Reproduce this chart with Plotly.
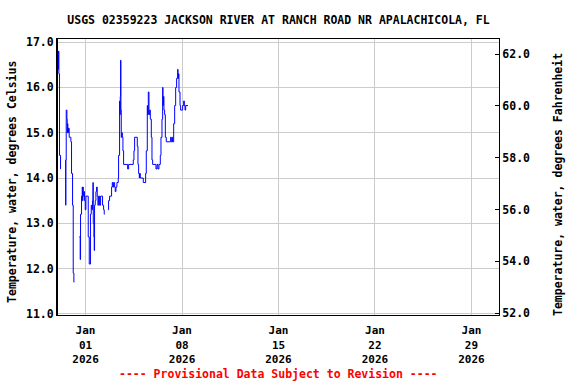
import plotly.graph_objects as go

TITLE = "USGS 02359223 JACKSON RIVER AT RANCH ROAD NR APALACHICOLA, FL"
Y_LEFT_TITLE = "Temperature, water, degrees Celsius"
Y_RIGHT_TITLE = "Temperature, water, degrees Fahrenheit"
NOTE = "---- Provisional Data Subject to Revision ----"

# Water temperature (deg C); None marks gaps in the record
times = [
    "2025-12-30 00:00", "2025-12-30 00:30", "2025-12-30 01:00", "2025-12-30 01:30",
    "2025-12-30 02:40", "2025-12-30 04:25", "2025-12-30 04:50", "2025-12-30 09:00",
    "2025-12-30 13:05", "2025-12-30 13:20", "2025-12-30 13:40", "2025-12-30 14:20",
    "2025-12-30 15:30", "2025-12-30 16:00", "2025-12-30 16:35", "2025-12-30 17:10",
    "2025-12-30 18:20", "2025-12-30 19:30", "2025-12-30 22:25", "2025-12-30 23:35",
    "2025-12-31 01:20", "2025-12-31 02:30", "2025-12-31 03:40", "2025-12-31 04:15",
    "2025-12-31 08:00",
    "2025-12-31 13:00", "2025-12-31 14:40", "2025-12-31 15:15", "2025-12-31 17:00",
    "2025-12-31 18:10", "2025-12-31 18:45", "2025-12-31 19:20", "2025-12-31 19:55",
    "2025-12-31 21:05", "2025-12-31 22:15", "2025-12-31 23:25", "2026-01-01 00:35",
    "2026-01-01 04:40", "2026-01-01 06:25", "2026-01-01 08:30", "2026-01-01 09:55",
    "2026-01-01 11:00", "2026-01-01 12:10", "2026-01-01 12:50", "2026-01-01 13:25",
    "2026-01-01 14:30", "2026-01-01 15:05", "2026-01-01 15:40", "2026-01-01 16:50",
    "2026-01-01 18:00", "2026-01-01 19:10", "2026-01-01 20:20", "2026-01-01 21:30",
    "2026-01-01 22:40", "2026-01-02 00:25", "2026-01-02 02:10", "2026-01-02 05:35",
    "2026-01-02 07:25", "2026-01-02 08:30", "2026-01-02 09:10", "2026-01-02 12:00",
    "2026-01-02 14:55", "2026-01-02 16:05", "2026-01-02 17:50", "2026-01-02 21:20",
    "2026-01-02 22:30", "2026-01-02 23:40", "2026-01-03 00:50", "2026-01-03 02:35",
    "2026-01-03 03:40", "2026-01-03 04:55", "2026-01-03 06:35", "2026-01-03 08:55",
    "2026-01-03 09:30", "2026-01-03 11:15", "2026-01-03 11:50", "2026-01-03 12:25",
    "2026-01-03 13:00", "2026-01-03 13:35", "2026-01-03 14:10", "2026-01-03 15:20",
    "2026-01-03 16:00", "2026-01-03 17:05", "2026-01-03 18:15", "2026-01-04 01:15",
    "2026-01-04 03:00", "2026-01-04 11:05", "2026-01-04 12:15", "2026-01-04 13:25",
    "2026-01-04 18:05", "2026-01-04 19:15", "2026-01-04 20:25", "2026-01-04 21:35",
    "2026-01-04 22:10", "2026-01-04 23:20", "2026-01-05 04:30", "2026-01-05 08:35",
    "2026-01-05 09:45", "2026-01-05 11:30", "2026-01-05 12:05", "2026-01-05 13:15",
    "2026-01-05 14:25", "2026-01-05 15:35", "2026-01-05 16:45", "2026-01-05 18:30",
    "2026-01-05 19:40", "2026-01-05 20:50", "2026-01-06 02:35", "2026-01-06 04:25",
    "2026-01-06 06:05", "2026-01-06 07:50", "2026-01-06 10:10", "2026-01-06 11:20",
    "2026-01-06 13:05", "2026-01-06 14:15", "2026-01-06 14:50", "2026-01-06 15:25",
    "2026-01-06 16:30", "2026-01-06 17:40", "2026-01-06 18:55", "2026-01-06 20:35",
    "2026-01-07 04:10", "2026-01-07 05:20", "2026-01-07 07:00", "2026-01-07 07:40",
    "2026-01-07 09:25", "2026-01-07 11:10", "2026-01-07 12:55", "2026-01-07 14:35",
    "2026-01-07 16:25", "2026-01-07 17:00", "2026-01-07 17:30", "2026-01-07 18:40",
    "2026-01-07 20:30", "2026-01-07 21:35", "2026-01-08 01:05", "2026-01-08 02:50",
    "2026-01-08 04:00", "2026-01-08 05:10", "2026-01-08 06:20", "2026-01-08 10:25",
]
temp_c = [
    16.8, 16.4, 16.8, 16.3,
    14.5, 14.2, 14.2, None,
    14.4, 13.4, 14.4, 15.5,
    15.3, 15.0, 15.2, 15.0,
    15.1, 14.9, 14.8, 14.1,
    13.4, 11.9, 11.7, 11.7,
    None,
    12.7, 12.2, 13.2, 13.6,
    13.8, 13.5, 13.8, 13.6,
    13.7, 13.5, 13.3, 13.6,
    12.7, 12.1, 13.2, 13.4,
    13.3, 13.5, 13.9, 13.0,
    12.7, 12.4, 13.4, 13.5,
    13.7, 13.8, 13.6, 13.4,
    13.6, 13.4, 13.6, 13.4,
    13.3, 13.2, 13.2, None,
    13.3, 13.5, 13.6, 13.8,
    13.9, 13.8, 13.9, 13.8,
    13.7, 13.8, 13.9, 14.0,
    14.5, 15.7, 15.4, 15.8,
    16.6, 15.5, 14.9, 15.0,
    14.9, 14.6, 14.3, 14.2,
    14.3, 14.4, 14.6, 14.9,
    14.7, 14.3, 14.1, 14.0,
    14.1, 14.0, 13.9, 14.1,
    14.6, 15.6, 15.4, 15.9,
    15.4, 15.5, 15.3, 14.9,
    14.4, 14.3, 14.2, 14.3,
    14.2, 14.3, 14.5, 14.9,
    15.3, 16.0, 15.6, 15.8,
    15.5, 15.4, 14.9, 14.8,
    14.9, 14.8, 14.9, 14.8,
    15.2, 15.6, 16.0, 16.2,
    16.4, 16.2, 16.3, 15.9,
    15.6, 15.5, 15.6, 15.7,
    15.6, 15.5, 15.6, 15.6,
]

x_range = ["2025-12-30 00:00", "2026-01-31 00:00"]
x_ticks = ["2026-01-01", "2026-01-08", "2026-01-15", "2026-01-22", "2026-01-29"]
c_range = [10.975, 17.07]
c_ticks = [11, 12, 13, 14, 15, 16, 17]
f_range = [51.93, 62.58]
f_ticks = [52, 54, 56, 58, 60, 62]

FONT = "DejaVu Sans Mono"
fnt = dict(family=FONT, size=11.5, color="black", weight="bold")
xfnt = dict(family=FONT, size=11, color="black", weight="bold")

fig = go.Figure()
fig.add_trace(go.Scatter(
    x=times, y=temp_c, mode="lines", line=dict(color="#0000ff", width=1, shape="hv"),
    connectgaps=False, showlegend=False, hoverinfo="x+y",
))
fig.add_trace(go.Scatter(x=[None], y=[None], yaxis="y2", showlegend=False, hoverinfo="skip"))

fig.update_layout(
    width=576, height=384,
    margin=dict(l=58, r=77, t=39, b=69),
    paper_bgcolor="white", plot_bgcolor="white",
    font=fnt,
    title=dict(text=TITLE, x=0.5, xref="paper", xanchor="center", y=1 - 20 / 384,
               yref="container", yanchor="middle", font=fnt),
    xaxis=dict(
        type="date", range=x_range, tickvals=x_ticks, tickformat="%b<br>%d<br>%Y",
        showgrid=True, gridcolor="#cccccc", gridwidth=1,
        showline=True, linecolor="black", linewidth=1, mirror=True,
        ticks="", tickfont=xfnt, zeroline=False, ticklabelstandoff=5,
    ),
    yaxis=dict(
        range=c_range, tickvals=c_ticks, tickformat=".1f",
        showgrid=True, gridcolor="#cccccc", gridwidth=1,
        showline=True, linecolor="black", linewidth=2,
        ticks="", tickfont=fnt, zeroline=False,
    ),
    yaxis2=dict(
        overlaying="y", side="right", range=f_range, tickvals=f_ticks, tickformat=".1f",
        showgrid=False, showline=True, linecolor="black", linewidth=1,
        ticks="inside", ticklen=4, tickcolor="black", tickfont=fnt, zeroline=False,
    ),
    annotations=[
        dict(text=Y_LEFT_TITLE, xref="paper", yref="paper", x=-46 / 441, y=0.482,
             xanchor="center", yanchor="middle", textangle=-90, showarrow=False, font=fnt),
        dict(text=Y_RIGHT_TITLE, xref="paper", yref="paper", x=1 + 59 / 441, y=0.471,
             xanchor="center", yanchor="middle", textangle=-90, showarrow=False, font=fnt),
        dict(text=NOTE, xref="paper", yref="paper", x=0.5, y=-59 / 276,
             xanchor="center", yanchor="middle", showarrow=False,
             font=dict(family=FONT, size=11.5, color="red", weight="bold")),
    ],
)

fig.write_html("out.html")
